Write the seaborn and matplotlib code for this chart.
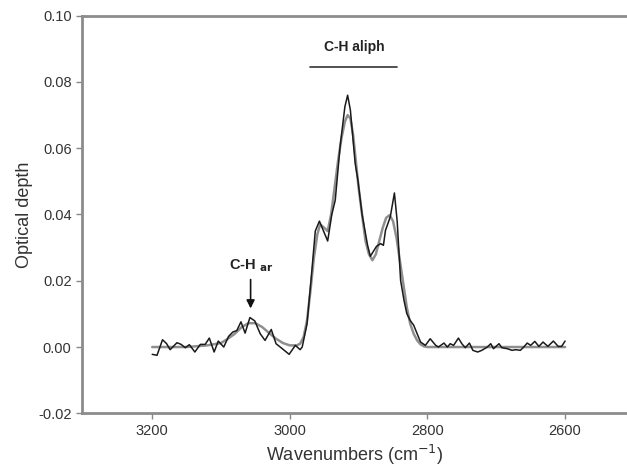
import numpy as np
import pandas as pd
import matplotlib
matplotlib.use("Agg")
import matplotlib.pyplot as plt
import seaborn as sns

# measured spectrum (noisy)
wn_meas = [3200, 3193, 3185, 3179, 3174, 3164, 3158, 3152, 3146, 3138, 3130, 3123,
           3117, 3110, 3104, 3096, 3089, 3083, 3077, 3071, 3065, 3058, 3051, 3043,
           3036, 3027, 3020, 3011, 3001, 2992, 2985, 2982, 2975, 2968, 2963, 2957,
           2951, 2945, 2939, 2934, 2927, 2920, 2916, 2912, 2905, 2901, 2895, 2887,
           2883, 2874, 2868, 2864, 2861, 2854, 2848, 2844, 2839, 2834, 2830, 2825,
           2820, 2813, 2810, 2803, 2796, 2788, 2784, 2776, 2771, 2767, 2762, 2755,
           2750, 2745, 2739, 2734, 2727, 2721, 2713, 2708, 2704, 2696, 2692, 2684,
           2677, 2672, 2665, 2660, 2655, 2650, 2644, 2638, 2632, 2625, 2617, 2610,
           2605, 2600]
od_meas = [-0.0022, -0.0025, 0.0022, 0.0010, -0.0008, 0.0013, 0.0008, -0.0002, 0.0007, -0.0015, 0.0008, 0.0008,
           0.0027, -0.0015, 0.0018, 0.0000, 0.0032, 0.0045, 0.0050, 0.0076, 0.0042, 0.0089, 0.0079, 0.0040,
           0.0020, 0.0053, 0.0010, -0.0005, -0.0022, 0.0005, -0.0008, 0.0000, 0.0070, 0.0230, 0.0350, 0.0380,
           0.0350, 0.0320, 0.0400, 0.0443, 0.0604, 0.0725, 0.0760, 0.0715, 0.0554, 0.0503, 0.0400, 0.0307,
           0.0274, 0.0304, 0.0312, 0.0307, 0.0352, 0.0393, 0.0465, 0.0380, 0.0201, 0.0140, 0.0101, 0.0080,
           0.0066, 0.0030, 0.0015, 0.0005, 0.0025, 0.0005, 0.0000, 0.0012, 0.0000, 0.0010, 0.0005, 0.0027,
           0.0010, -0.0002, 0.0012, -0.0010, -0.0015, -0.0010, 0.0000, 0.0010, -0.0005, 0.0010, -0.0002, -0.0005,
           -0.0010, -0.0008, -0.0010, 0.0000, 0.0012, 0.0005, 0.0017, 0.0002, 0.0015, 0.0002, 0.0018, 0.0002,
           0.0002, 0.0018]

# fitted spectrum (smooth)
wn_fit = [3200, 3150, 3120, 3100, 3090, 3080, 3070, 3060, 3050, 3040, 3030, 3020,
          3010, 3000, 2990, 2985, 2980, 2975, 2970, 2965, 2960, 2956, 2950, 2945,
          2940, 2935, 2930, 2925, 2920, 2916, 2912, 2908, 2904, 2900, 2895, 2890,
          2885, 2880, 2875, 2870, 2865, 2860, 2855, 2850, 2845, 2840, 2835, 2830,
          2825, 2820, 2815, 2810, 2805, 2800, 2700, 2600]
od_fit = [0.0, 0.0, 0.0005, 0.0012, 0.0025, 0.0040, 0.0060, 0.0072, 0.0072, 0.0060, 0.0042, 0.0025,
          0.0012, 0.0005, 0.0005, 0.0010, 0.0030, 0.0080, 0.0170, 0.0270, 0.0340, 0.0370, 0.0360, 0.0350,
          0.0400, 0.0480, 0.0560, 0.0630, 0.0680, 0.0700, 0.0690, 0.0640, 0.0560, 0.0480, 0.0400, 0.0320,
          0.0280, 0.0262, 0.0280, 0.0320, 0.0360, 0.0390, 0.0398, 0.0380, 0.0330, 0.0260, 0.0190, 0.0120,
          0.0070, 0.0040, 0.0020, 0.0008, 0.0002, 0.0, 0.0, 0.0]

x_ticks = [3200, 3000, 2800, 2600]
y_ticks = [-0.02, 0.00, 0.02, 0.04, 0.06, 0.08, 0.10]

df_meas = pd.DataFrame({"wn": wn_meas, "od": od_meas})
df_fit = pd.DataFrame({"wn": wn_fit, "od": od_fit})

sns.set_style("ticks")
plt.rcParams["font.family"] = ["Liberation Sans", "DejaVu Sans"]

fig = plt.figure(figsize=(6.27, 4.66), dpi=100)
ax = fig.add_axes([0.1308, 0.1131, 0.8692, 0.8532])

sns.lineplot(data=df_fit, x="wn", y="od", color="#8f8f8f", linewidth=1.8, sort=False, ax=ax)
sns.lineplot(data=df_meas, x="wn", y="od", color="#1a1a1a", linewidth=1.1, sort=False, ax=ax)

ax.set_xlim(3302, 2510)
ax.set_ylim(-0.02, 0.10)
ax.set_xticks(x_ticks)
ax.set_yticks(y_ticks)
ax.set_yticklabels([f"{v:.2f}" for v in y_ticks])
ax.set_xlabel("Wavenumbers (cm$^{-1}$)", fontsize=13, color="#333333", labelpad=4)
ax.set_ylabel("Optical depth", fontsize=13, color="#333333", labelpad=4)
ax.tick_params(axis="both", labelsize=10.5, colors="#333333", length=4, width=1, direction="out")
ax.tick_params(axis="both", color="#888888")

for side in ["left", "bottom", "top"]:
    ax.spines[side].set_color("#8c8c8c")
    ax.spines[side].set_linewidth(2)
ax.spines["right"].set_visible(False)

# annotations
ax.plot([2970, 2844], [0.0846, 0.0846], color="#333333", linewidth=1.2)
ax.text(2907, 0.0905, "C-H aliph", ha="center", va="center", fontsize=10,
        fontweight="bold", color="#222222")
ax.annotate("", xy=(3057, 0.0108), xytext=(3057, 0.0212),
            arrowprops=dict(arrowstyle="-|>", color="#111111", lw=1.2, mutation_scale=12))
ax.text(3057, 0.0245, r"C-H $_{\mathbf{ar}}$", ha="center", va="center", fontsize=10.5,
        fontweight="bold", color="#222222")

fig.savefig("out.png", dpi=100)
